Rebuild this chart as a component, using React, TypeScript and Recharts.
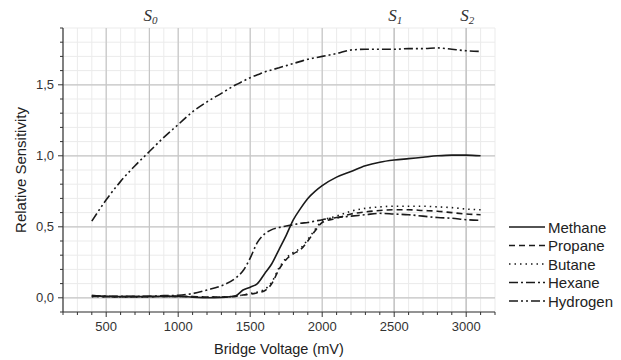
import { LineChart, Line, XAxis, YAxis, CartesianGrid, ReferenceLine, Legend, Label } from 'recharts';

// Bridge voltage (mV) at which each sensitivity was read
const voltages = [
  400, 500, 600, 700, 800, 900, 1000, 1100, 1200, 1300, 1400, 1450, 1500, 1550, 1600, 1650, 1700,
  1750, 1800, 1850, 1900, 1950, 2000, 2100, 2200, 2300, 2400, 2500, 2600, 2700, 2800, 2900, 3000, 3100,
];

const methane = [
  0.015, 0.01, 0.008, 0.008, 0.008, 0.01, 0.01, 0.005, 0.0, 0.003, 0.015, 0.055, 0.075, 0.1, 0.17, 0.24, 0.34,
  0.44, 0.55, 0.63, 0.7, 0.75, 0.79, 0.85, 0.89, 0.93, 0.955, 0.97, 0.98, 0.99, 1.0, 1.005, 1.005, 1.0,
];
const propane = [
  0.01, 0.008, 0.008, 0.008, 0.008, 0.01, 0.01, 0.008, 0.005, 0.005, 0.01, 0.02, 0.025, 0.035, 0.05, 0.1, 0.2,
  0.27, 0.31, 0.34, 0.4, 0.47, 0.53, 0.56, 0.59, 0.605, 0.615, 0.62, 0.62, 0.615, 0.61, 0.6, 0.59, 0.585,
];
const butane = [
  0.008, 0.008, 0.006, 0.006, 0.008, 0.01, 0.01, 0.008, 0.006, 0.006, 0.012, 0.02, 0.03, 0.04, 0.06, 0.11, 0.21,
  0.28, 0.32, 0.35, 0.41, 0.48, 0.54, 0.575, 0.61, 0.63, 0.64, 0.645, 0.645, 0.645, 0.64, 0.635, 0.625, 0.62,
];
const hexane = [
  0.015, 0.012, 0.01, 0.01, 0.012, 0.015, 0.018, 0.03, 0.055, 0.085, 0.14, 0.19, 0.28, 0.39, 0.45, 0.48, 0.495,
  0.505, 0.515, 0.525, 0.53, 0.54, 0.55, 0.565, 0.575, 0.585, 0.595, 0.59, 0.585, 0.575, 0.565, 0.56, 0.55, 0.545,
];
const hydrogen = [
  0.54, 0.69, 0.82, 0.93, 1.03, 1.13, 1.22, 1.31, 1.38, 1.44, 1.5, 1.525, 1.55, 1.57, 1.59, 1.605, 1.62,
  1.635, 1.65, 1.665, 1.68, 1.69, 1.7, 1.72, 1.745, 1.75, 1.75, 1.75, 1.755, 1.755, 1.76, 1.75, 1.74, 1.735,
];

const xTicks = [
  200, 300, 400, 500, 600, 700, 800, 900, 1000, 1100, 1200, 1300, 1400, 1500, 1600, 1700, 1800, 1900,
  2000, 2100, 2200, 2300, 2400, 2500, 2600, 2700, 2800, 2900, 3000, 3100, 3200,
];
const yTicks = [
  -0.1, 0, 0.1, 0.2, 0.3, 0.4, 0.5, 0.6, 0.7, 0.8, 0.9, 1.0, 1.1, 1.2, 1.3, 1.4, 1.5, 1.6, 1.7, 1.8, 1.9,
];
const majorX = [500, 1000, 1500, 2000, 2500, 3000];
const majorY = [0, 0.5, 1.0, 1.5];
const markers = [
  { x: 800, sub: '0' },
  { x: 2500, sub: '1' },
  { x: 3000, sub: '2' },
];

const series = [
  { key: 'Methane', values: methane, dash: undefined },
  { key: 'Propane', values: propane, dash: '6 4' },
  { key: 'Butane', values: butane, dash: '1.5 4' },
  { key: 'Hexane', values: hexane, dash: '9 3 2 3' },
  { key: 'Hydrogen', values: hydrogen, dash: '9 3 2 3 2 3' },
];

const data = voltages.map((v, i) => {
  const row: Record<string, number> = { voltage: v };
  series.forEach((s) => (row[s.key] = s.values[i]));
  return row;
});

const FONT = '"Liberation Sans", Arial, sans-serif';
const INK = '#1a1a1a';

const XTick = ({ x, y, payload }: any) => {
  const major = payload.value % 500 === 0;
  return (
    <g>
      <line x1={x} x2={x} y1={y} y2={y + (major ? 5 : 3)} stroke="#333" />
      {major && (
        <text x={x} y={y + 19} textAnchor="middle" fontSize={13} fontFamily={FONT} fill="#333">
          {payload.value}
        </text>
      )}
    </g>
  );
};

const YTick = ({ x, y, payload }: any) => {
  const v = payload.value;
  const major = Math.abs(v * 2 - Math.round(v * 2)) < 1e-6;
  return (
    <g>
      <line x1={x - (major ? 5 : 3)} x2={x} y1={y} y2={y} stroke="#333" />
      {major && (
        <text x={x - 9} y={y + 4.5} textAnchor="end" fontSize={13} fontFamily={FONT} fill="#333">
          {v.toFixed(1).replace('.', ',')}
        </text>
      )}
    </g>
  );
};

const markerLabel = (sub: string) => (props: any) => {
  const { viewBox } = props;
  return (
    <text x={viewBox.x + 1} y={viewBox.y - 7} textAnchor="middle" fontFamily='"Liberation Serif", "Times New Roman", serif' fontStyle="italic" fontSize={17} fill="#333">
      S<tspan fontSize={11} dy={3}>{sub}</tspan>
    </text>
  );
};

const renderLegend = () => (
  <svg width={115} height={95}>
    {series.map((s, i) => {
      const cy = 12 + i * 18.5;
      return (
        <g key={s.key}>
          <line x1={4} x2={40} y1={cy} y2={cy} stroke={INK} strokeWidth={1.6} strokeDasharray={s.dash} />
          <text x={43} y={cy + 5.5} fontSize={15} fontFamily={FONT} fill="#222">
            {s.key}
          </text>
        </g>
      );
    })}
  </svg>
);

export default function App() {
  return (
    <div style={{ position: 'absolute', left: 0, top: 0, background: '#fff' }}>
      <LineChart width={621} height={360} data={data} margin={{ top: 28, right: 126, left: 0, bottom: 0 }}>
        <CartesianGrid stroke="#ebebeb" strokeWidth={1} />
        <XAxis
          dataKey="voltage"
          type="number"
          domain={[200, 3200]}
          ticks={xTicks}
          interval={0}
          height={48}
          tickSize={0}
          tickMargin={0}
          tick={<XTick />}
          axisLine={{ stroke: '#333', strokeWidth: 1.2 }}
        >
          <Label
            content={({ viewBox }: any) => (
              <text x={viewBox.x + viewBox.width / 2} y={viewBox.y + 42} textAnchor="middle" fontSize={14.5} fontFamily={FONT} fill="#222">
                Bridge Voltage (mV)
              </text>
            )}
          />
        </XAxis>
        <YAxis
          type="number"
          domain={[-0.1, 1.9]}
          ticks={yTicks}
          interval={0}
          width={63}
          tickSize={0}
          tickMargin={0}
          tick={<YTick />}
          axisLine={{ stroke: '#333', strokeWidth: 1.2 }}
        >
          <Label
            content={({ viewBox }: any) => {
              const cx = viewBox.x + 22;
              const cy = viewBox.y + viewBox.height / 2;
              return (
                <text x={cx} y={cy} transform={`rotate(-90, ${cx}, ${cy})`} textAnchor="middle" dominantBaseline="middle" fontSize={15} fontFamily={FONT} fill="#222">
                  Relative Sensitivity
                </text>
              );
            }}
          />
        </YAxis>
        {majorX.map((v) => (
          <ReferenceLine key={'x' + v} x={v} stroke="#c6c6c6" strokeWidth={1.2} />
        ))}
        {majorY.map((v) => (
          <ReferenceLine key={'y' + v} y={v} stroke="#c6c6c6" strokeWidth={1.2} />
        ))}
        {markers.map((m) => (
          <ReferenceLine key={'s' + m.x} x={m.x} stroke="#c6c6c6" strokeWidth={1.2} label={markerLabel(m.sub)} />
        ))}
        {series.map((s) => (
          <Line
            key={s.key}
            dataKey={s.key}
            type="monotone"
            stroke={INK}
            strokeWidth={1.6}
            strokeDasharray={s.dash}
            dot={false}
            activeDot={false}
            isAnimationActive={false}
          />
        ))}
        <Legend
          layout="horizontal"
          verticalAlign="middle"
          content={renderLegend}
          wrapperStyle={{ position: 'absolute', left: 505, top: 215, width: 115, height: 95 }}
        />
      </LineChart>
    </div>
  );
}
